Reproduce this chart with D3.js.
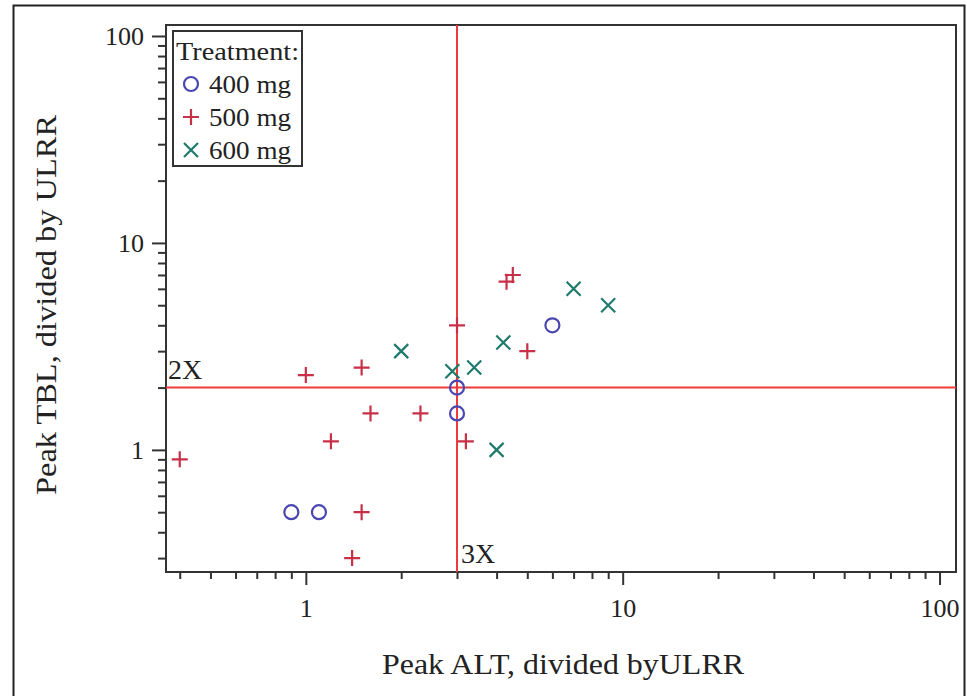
<!DOCTYPE html>
<html><head><meta charset="utf-8">
<script src="https://cdn.jsdelivr.net/npm/d3@7"></script>
<style>body{margin:0;background:#fff}svg text{font-family:"Liberation Serif","Times New Roman",serif;fill:#222}</style>
</head><body><svg id="c" width="967" height="696"></svg>
<script>
const groups = ["400 mg", "500 mg", "600 mg"];
const alt400 = [0.9, 1.1, 3, 3, 6];
const tbl400 = [0.5, 0.5, 2, 1.5, 4];
const alt500 = [0.4, 1.0, 1.5, 1.6, 2.3, 1.2, 1.5, 1.4, 3, 3.2, 5, 4.3, 4.5];
const tbl500 = [0.9, 2.3, 2.5, 1.5, 1.5, 1.1, 0.5, 0.3, 4, 1.1, 3, 6.5, 7];
const alt600 = [2, 2.9, 3.4, 4.2, 4, 7, 9];
const tbl600 = [3, 2.4, 2.5, 3.3, 1, 6, 5];
const majorTicks = [1, 10, 100];
const refX = 3, refY = 2;
const refXLabel = "3X", refYLabel = "2X";

const colors = ["#4a48b0", "#c83048", "#1e7a6c"];
const svg = d3.select("#c");
const L = 166, R = 956, T = 25, B = 572;
const x = d3.scaleLog().domain([0.362, 112.7]).range([L, R]);
const y = d3.scaleLog().domain([0.257, 113]).range([B, T]);

// outer frame
svg.append("rect").attr("x", 13.5).attr("y", 5.5).attr("width", 951).attr("height", 700)
  .attr("fill", "none").attr("stroke", "#222").attr("stroke-width", 2);

// plot frame
svg.append("rect").attr("x", L).attr("y", T).attr("width", R - L).attr("height", B - T)
  .attr("fill", "none").attr("stroke", "#333").attr("stroke-width", 2);

// minor ticks
function minorVals(lo, hi) {
  const out = [];
  for (let d = 0.1; d < 1000; d *= 10) for (let k = 1; k <= 9; k++) {
    const v = +(k * d).toPrecision(3);
    if (v >= lo && v <= hi && !majorTicks.includes(v)) out.push(v);
  }
  return out;
}
const xMinor = minorVals(x.domain()[0], x.domain()[1]);
const yMinor = minorVals(y.domain()[0], y.domain()[1]);

const gx = svg.append("g").attr("transform", `translate(0,${B})`);
gx.call(d3.axisBottom(x).tickValues(xMinor).tickSize(7).tickFormat(""));
gx.append("g").call(d3.axisBottom(x).tickValues(majorTicks).tickSize(13).tickPadding(14).tickFormat(d3.format("d")));
const gy = svg.append("g").attr("transform", `translate(${L},0)`);
gy.call(d3.axisLeft(y).tickValues(yMinor).tickSize(8).tickFormat(""));
gy.append("g").call(d3.axisLeft(y).tickValues(majorTicks).tickSize(14).tickPadding(8).tickFormat(d3.format("d")));
svg.selectAll(".domain").remove();
svg.selectAll(".tick line").attr("stroke", "#333").attr("stroke-width", 2);
svg.selectAll(".tick text").attr("font-size", 26).attr("fill", "#333")
  .attr("font-family", "Liberation Serif");

// axis titles
svg.append("text").attr("x", (L + R) / 2 + 2).attr("y", 674).attr("text-anchor", "middle")
  .attr("font-size", 29).attr("textLength", 362).attr("lengthAdjust", "spacingAndGlyphs")
  .text("Peak ALT, divided byULRR");
svg.append("text").attr("transform", "translate(56,305) rotate(-90)").attr("text-anchor", "middle")
  .attr("font-size", 29).attr("textLength", 380).attr("lengthAdjust", "spacingAndGlyphs")
  .text("Peak TBL, divided by ULRR");

// reference lines
svg.append("line").attr("x1", x(refX)).attr("x2", x(refX)).attr("y1", T).attr("y2", B)
  .attr("stroke", "#ee3a3a").attr("stroke-width", 2);
svg.append("line").attr("x1", L).attr("x2", R).attr("y1", y(refY)).attr("y2", y(refY))
  .attr("stroke", "#ee3a3a").attr("stroke-width", 2);
svg.append("text").attr("x", L + 2).attr("y", y(refY) - 9).attr("font-size", 28).text(refYLabel);
svg.append("text").attr("x", x(refX) + 4).attr("y", B - 9).attr("font-size", 28).text(refXLabel);

// markers
function drawMarker(g, type, cx, cy, color) {
  if (type === 0) {
    g.append("circle").attr("cx", cx).attr("cy", cy).attr("r", 7)
      .attr("fill", "none").attr("stroke", color).attr("stroke-width", 2.2);
  } else if (type === 1) {
    g.append("path").attr("d", `M${cx - 8},${cy}H${cx + 8}M${cx},${cy - 8}V${cy + 8}`)
      .attr("stroke", color).attr("stroke-width", 2.2).attr("fill", "none");
  } else {
    g.append("path").attr("d", `M${cx - 7},${cy - 7}L${cx + 7},${cy + 7}M${cx - 7},${cy + 7}L${cx + 7},${cy - 7}`)
      .attr("stroke", color).attr("stroke-width", 2.2).attr("fill", "none");
  }
}
const series = [[alt400, tbl400], [alt500, tbl500], [alt600, tbl600]];
const pg = svg.append("g");
series.forEach(([xs, ys], i) => {
  xs.forEach((v, j) => drawMarker(pg, i, x(v), y(ys[j]), colors[i]));
});

// legend
const lg = svg.append("g");
lg.append("rect").attr("x", 173).attr("y", 31).attr("width", 129).attr("height", 135)
  .attr("fill", "#fff").attr("stroke", "#333").attr("stroke-width", 2);
lg.append("text").attr("x", 176).attr("y", 60).attr("font-size", 26).attr("textLength", 123)
  .attr("lengthAdjust", "spacingAndGlyphs").text("Treatment:");
groups.forEach((g, i) => {
  const cy = 84 + i * 33;
  drawMarker(lg, i, 191, cy, colors[i]);
  lg.append("text").attr("x", 209).attr("y", cy + 9).attr("font-size", 26).attr("textLength", 82)
    .attr("lengthAdjust", "spacingAndGlyphs").text(g);
});
</script></body></html>
